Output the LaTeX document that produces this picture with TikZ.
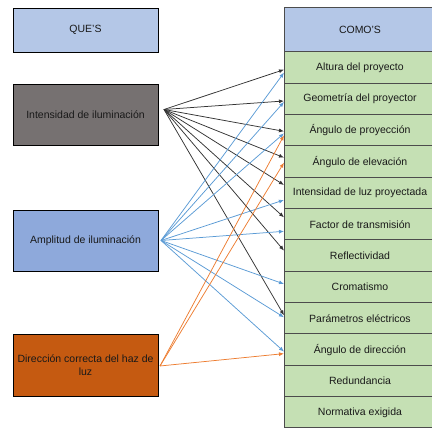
\documentclass[tikz,border=0pt]{standalone}
\usepackage{fontspec}
\setmainfont{Liberation Sans}
\usetikzlibrary{positioning,arrows.meta}

\definecolor{azulclaro}{HTML}{B4C7E7}
\definecolor{azulque}{HTML}{8EA9DB}
\definecolor{grisque}{HTML}{767171}
\definecolor{naranjaque}{HTML}{C55A11}
\definecolor{verdecomo}{HTML}{C5E0B4}
\definecolor{flechaazul}{HTML}{5B9BD5}
\definecolor{flechanaranja}{HTML}{ED7D31}

\begin{document}
\begin{tikzpicture}[
        x=1pt, y=1pt,
        que/.style={draw=black, line width=0.8pt, minimum width=145pt, minimum height=61pt,
            inner sep=2pt, outer sep=0pt, align=center, text=black!90,
            font=\fontsize{10.5}{12.5}\selectfont},
        como/.style={draw=black!70, line width=1pt, fill=verdecomo, minimum width=152pt,
            minimum height=31.33pt, inner sep=0pt, outer sep=0pt, text=black!90,
            font=\fontsize{10.5}{12.5}\selectfont},
        flecha/.style={line width=0.75pt, -{Latex[length=5pt,width=4pt]}},
        negra/.style={flecha, draw=black!80},
        azul/.style={flecha, draw=flechaazul},
        naranja/.style={flecha, draw=flechanaranja}
    ]

        \useasboundingbox (0,0) rectangle (432,430);

        % columna de los que
        \node[que, fill=azulclaro, minimum height=44pt] (ques) at (85.5, 400) {QUE'S};
        \node[que, fill=grisque] (intens) at (85.5, 315.5) {Intensidad de iluminación};
        \node[que, fill=azulque] (ampl) at (85.5, 189.5) {Amplitud de iluminación};
        \node[que, fill=naranjaque, minimum height=62pt, inner xsep=0pt] (direc) at (85.5, 65)
            {Dirección correcta del haz de\\luz};

        % columna de los como
        \node[como, fill=azulclaro, minimum height=44pt] (comos) at (360, 400) {COMO'S};
        \node[como, below=0pt of comos] (c1) {Altura del proyecto};
        \node[como, below=0pt of c1] (c2) {Geometría del proyector};
        \node[como, below=0pt of c2] (c3) {Ángulo de proyección};
        \node[como, below=0pt of c3] (c4) {Ángulo de elevación};
        \node[como, below=0pt of c4] (c5) {Intensidad de luz proyectada};
        \node[como, below=0pt of c5] (c6) {Factor de transmisión};
        \node[como, below=0pt of c6] (c7) {Reflectividad};
        \node[como, below=0pt of c7] (c8) {Cromatismo};
        \node[como, below=0pt of c8] (c9) {Parámetros eléctricos};
        \node[como, below=0pt of c9] (c10) {Ángulo de dirección};
        \node[como, below=0pt of c10] (c11) {Redundancia};
        \node[como, below=0pt of c11] (c12) {Normativa exigida};

        % puntos de salida
        \coordinate (s1) at ([xshift=6pt, yshift=5pt]intens.east);
        \coordinate (s2) at ([xshift=3pt]ampl.east);
        \coordinate (s3) at ([xshift=2pt, yshift=-1pt]direc.east);

        \draw[negra] (s1) -- ([yshift=-2pt]c1.west);
        \draw[negra] (s1) -- ([yshift=-2pt]c2.west);
        \draw[negra] (s1) -- ([yshift=-1pt]c3.west);
        \draw[negra] (s1) -- ([yshift=4pt]c4.west);
        \draw[negra] (s1) -- ([yshift=8pt]c5.west);
        \draw[negra] (s1) -- ([yshift=7pt]c6.west);
        \draw[negra] (s1) -- ([yshift=5pt]c7.west);
        \draw[negra] (s1) -- ([yshift=3pt]c9.west);

        \draw[azul] (s2) -- ([yshift=-5pt]c1.west);
        \draw[azul] (s2) -- ([yshift=-3pt]c2.west);
        \draw[azul] (s2) -- ([yshift=-3pt]c3.west);
        \draw[azul] (s2) -- ([yshift=-7pt]c5.west);
        \draw[azul] (s2) -- ([yshift=-7pt]c6.west);
        \draw[azul] (s2) -- ([yshift=3pt]c8.west);
        \draw[azul] (s2) -- ([yshift=1pt]c9.west);
        \draw[azul] (s2) -- ([yshift=-2pt]c10.west);

        \draw[naranja] (s3) -- ([yshift=-5pt]c3.west);
        \draw[naranja] (s3) -- ([yshift=-1pt]c4.west);
        \draw[naranja] (s3) -- ([yshift=-4pt]c10.west);
    \end{tikzpicture}
\end{document}
